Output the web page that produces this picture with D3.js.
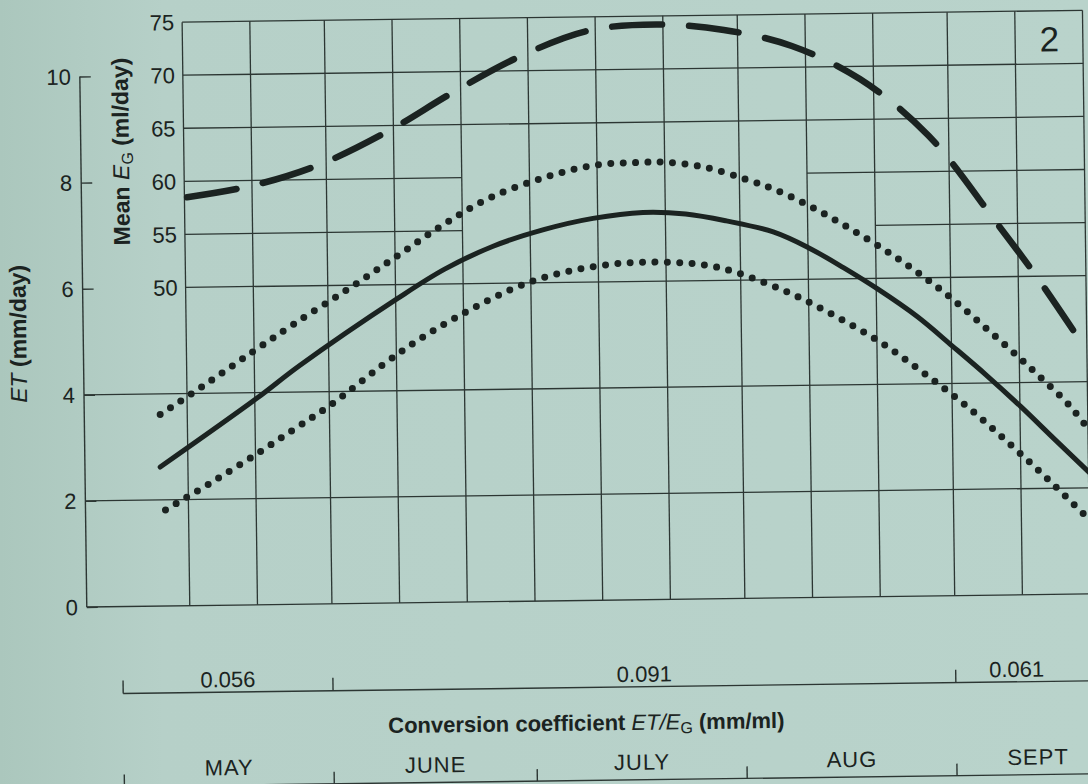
<!DOCTYPE html>
<html><head><meta charset="utf-8">
<script src="https://cdn.jsdelivr.net/npm/d3@7"></script>
<style>
html,body{margin:0;padding:0;background:#b7d1c9;}
svg{display:block;font-family:"Liberation Sans",Arial,Helvetica,sans-serif;}
</style></head><body>
<svg id="chart" width="1088" height="784"></svg>
<script>
// ---- data (x = days counted from 1 May) ----
const monthNames  = ["MAY","JUNE","JULY","AUG","SEPT"];
const monthStarts = [0,31,61,92,123];
const gridDays    = [10,20,31,41,51,61,71,81,92,102,112,123,133,143];
const etTicks     = [0,2,4,6,8,10];
const etGridTicks = [0,2,4];
const egTicks     = [50,55,60,65,70,75];
const egLineValue = [75,70,65,60,60,55,55,50];
const egLineFrom  = [10,10,10,10,102,10,112,10];
const egLineTo    = [143,143,143,51,143,51,143,143];
const coefLabels  = ["0.056","0.091","0.061"];
const coefStarts  = [0,31,123];
const coefEnds    = [31,123,141];

// Mean E_G (ml/day) - dashed
const egDays = [10.4,20,30,40,50,60,70,80,90,100,110,120,130,136,142];
const egVals = [58.5,59.5,61.4,64.4,68.1,71.4,73.7,74.2,73.6,72.0,68.8,63.4,55.0,49.7,43.9];
// ET (mm/day) - solid
const etDays = [5.9,20.4,26.6,41.3,48.3,55.5,63,70.3,77.7,84,90,96.9,102,107.2,112.2,118,123.1,128,133.1,138,143.1];
const etVals = [2.62,3.90,4.49,5.74,6.28,6.70,7.0,7.2,7.30,7.26,7.12,6.90,6.60,6.21,5.80,5.27,4.71,4.16,3.55,2.93,2.29];
// upper dotted
const upDays = [6.0,12.9,19.8,26.0,33.9,41.2,48.2,54.9,62.9,70.5,76.5,81.2,87.1,92.9,97.2,102.6,108.3,115.2,122.1,128.7,134.9,140.5,143.0];
const upVals = [3.61,4.18,4.77,5.29,5.92,6.53,7.12,7.60,7.97,8.20,8.24,8.24,8.13,7.90,7.70,7.36,6.94,6.37,5.71,4.97,4.24,3.53,3.11];
// lower dotted
const loDays = [6.6,13.6,20.4,26.0,31.1,41.4,49.5,60.5,70.8,79.8,88.5,98.4,105.6,112.7,119.1,125.3,131.3,137.0,142.5];
const loVals = [1.81,2.33,2.86,3.32,3.74,4.71,5.34,6.0,6.30,6.36,6.25,5.79,5.32,4.78,4.18,3.55,2.86,2.17,1.47];

// ---- drawing ----
const ink = "#1b2321", gridCol = "#2c3633";
const svg = d3.select("#chart");
const defs = svg.append("defs");
const lg = defs.append("linearGradient").attr("id","bg").attr("x1","0").attr("x2","1");
lg.append("stop").attr("offset","0").attr("stop-color","#abc7bd");
lg.append("stop").attr("offset","0.15").attr("stop-color","#b6d0c8");
lg.append("stop").attr("offset","1").attr("stop-color","#b9d3cb");
svg.append("rect").attr("width",1088).attr("height",784).attr("fill","url(#bg)");

const g = svg.append("g").attr("transform","rotate(-0.75,544,392)");

const x = d3.scaleLinear().domain([0,143]).range([119.3,1087.4]);
const yET = d3.scaleLinear().domain([0,10]).range([601,70.5]);
const yEG = d3.scaleLinear().domain([50,75]).range([yET(6),yET(11)]);
const axisX = 84;

// vertical grid lines
g.append("g").selectAll("line").data(gridDays).join("line")
  .attr("x1",d=>x(d)).attr("x2",d=>x(d)).attr("y1",yEG(75)).attr("y2",yET(0))
  .attr("stroke",gridCol).attr("stroke-width",1.3);
// EG horizontal lines
g.append("g").selectAll("line").data(egLineValue.map((v,i)=>({v,a:egLineFrom[i],b:egLineTo[i]}))).join("line")
  .attr("x1",d=>x(d.a)).attr("x2",d=>x(d.b)).attr("y1",d=>yEG(d.v)).attr("y2",d=>yEG(d.v))
  .attr("stroke",gridCol).attr("stroke-width",1.3);
// ET grid lines
g.append("g").selectAll("line").data(etGridTicks).join("line")
  .attr("x1",axisX).attr("x2",x(143)+6).attr("y1",d=>yET(d)).attr("y2",d=>yET(d))
  .attr("stroke",gridCol).attr("stroke-width",1.3);

// ET axis
const etAxis = d3.axisRight(yET).tickValues(etTicks).tickSize(11).tickFormat("");
const ea = g.append("g").attr("transform",`translate(${axisX},0)`).call(etAxis);
ea.select(".domain").attr("d",`M0,${yET(10)}V${yET(0)}`).attr("stroke",gridCol).attr("stroke-width",1.4);
ea.selectAll(".tick line").attr("stroke",gridCol).attr("stroke-width",1.4);
g.append("g").selectAll("text").data(etTicks).join("text")
  .attr("x",75).attr("y",d=>yET(d)).attr("dy","0.36em").attr("text-anchor","end")
  .attr("font-size",22).attr("fill",ink).text(d=>d);
// EG labels
g.append("g").selectAll("text").data(egTicks).join("text")
  .attr("x",179).attr("y",d=>yEG(d)).attr("dy","0.36em").attr("text-anchor","end")
  .attr("font-size",22).attr("fill",ink).text(d=>d);

// axis titles
const t1 = g.append("text").attr("transform","translate(27,327) rotate(-90)")
  .attr("text-anchor","middle").attr("font-size",23).attr("fill",ink);
t1.append("tspan").attr("font-style","italic").text("ET");
t1.append("tspan").attr("font-weight","bold").text(" (mm/day)");
const t2 = g.append("text").attr("transform","translate(132,146) rotate(-90)")
  .attr("text-anchor","middle").attr("font-size",23).attr("font-weight","bold").attr("fill",ink);
t2.append("tspan").text("Mean ");
t2.append("tspan").attr("font-style","italic").attr("font-weight","normal").text("E");
t2.append("tspan").attr("font-size",16).attr("font-weight","normal").attr("dy",4).text("G");
t2.append("tspan").attr("dy",-4).text("  (ml/day)");

// panel number
g.append("text").attr("x",1054).attr("y",58).attr("text-anchor","middle")
  .attr("font-size",35).attr("fill",ink).text("2");

// curves
const lineFn = d3.line().curve(d3.curveCatmullRom.alpha(0.5));
const egPts = egDays.map((d,i)=>[x(d),yEG(egVals[i])]);
const etPts = etDays.map((d,i)=>[x(d),yET(etVals[i])]);
const upPts = upDays.map((d,i)=>[x(d),yET(upVals[i])]);
const loPts = loDays.map((d,i)=>[x(d),yET(loVals[i])]);
g.append("path").attr("d",lineFn(egPts)).attr("fill","none").attr("stroke",ink)
  .attr("stroke-width",6.5).attr("stroke-linecap","round").attr("stroke-dasharray","50 27");
g.append("path").attr("d",lineFn(etPts)).attr("fill","none").attr("stroke",ink)
  .attr("stroke-width",5).attr("stroke-linecap","round");
[upPts,loPts].forEach(p=>{
  g.append("path").attr("d",lineFn(p)).attr("fill","none").attr("stroke",ink)
    .attr("stroke-width",7).attr("stroke-linecap","round").attr("stroke-dasharray","0 12.4");
});

// coefficient scale
const coefY = 688;
g.append("line").attr("x1",x(0)).attr("x2",1100).attr("y1",coefY).attr("y2",coefY)
  .attr("stroke",gridCol).attr("stroke-width",1.4);
g.append("g").selectAll("line").data(coefStarts).join("line")
  .attr("x1",d=>x(d)).attr("x2",d=>x(d)).attr("y1",coefY-13).attr("y2",coefY)
  .attr("stroke",gridCol).attr("stroke-width",1.4);
g.append("g").selectAll("text").data(coefLabels).join("text")
  .attr("x",(d,i)=>(x(coefStarts[i])+x(coefEnds[i]))/2).attr("y",coefY-5)
  .attr("text-anchor","middle").attr("font-size",22).attr("fill",ink).text(d=>d);

// conversion title
const t3 = g.append("text").attr("x",582).attr("y",731).attr("text-anchor","middle")
  .attr("font-size",22).attr("font-weight","bold").attr("fill",ink);
t3.append("tspan").text("Conversion coefficient ");
t3.append("tspan").attr("font-style","italic").attr("font-weight","normal").text("ET/E");
t3.append("tspan").attr("font-size",16).attr("font-weight","normal").attr("dy",4).text("G");
t3.append("tspan").attr("dy",-4).text("  (mm/ml)");

// month scale
const monY = 781;
const monEnds = [31,61,92,123,147];
g.append("line").attr("x1",x(0)).attr("x2",1100).attr("y1",monY).attr("y2",monY)
  .attr("stroke",gridCol).attr("stroke-width",1.4);
g.append("g").selectAll("line").data(monthStarts).join("line")
  .attr("x1",d=>x(d)).attr("x2",d=>x(d)).attr("y1",monY-12).attr("y2",monY)
  .attr("stroke",gridCol).attr("stroke-width",1.4);
g.append("g").selectAll("text").data(monthNames).join("text")
  .attr("x",(d,i)=>(x(monthStarts[i])+x(monEnds[i]))/2).attr("y",monY-10)
  .attr("text-anchor","middle").attr("font-size",22).attr("letter-spacing",1).attr("fill",ink).text(d=>d);
</script>
</body></html>
